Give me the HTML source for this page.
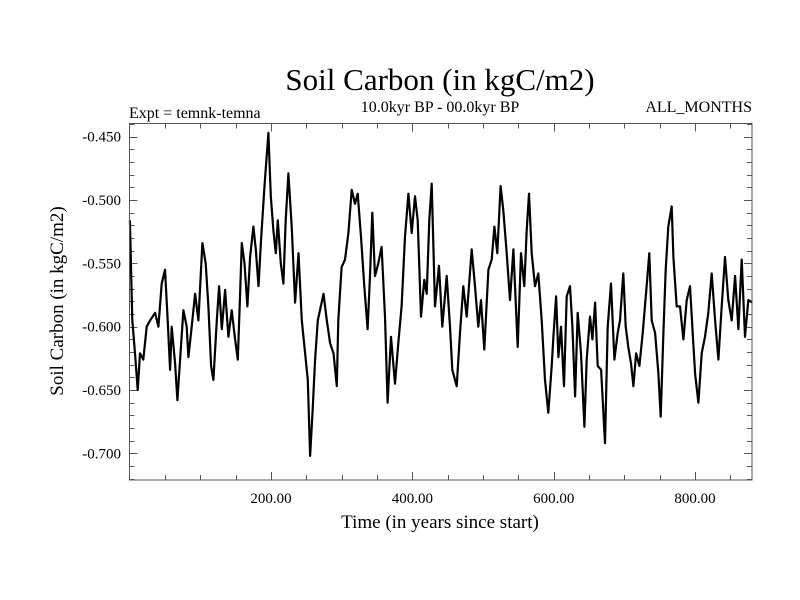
<!DOCTYPE html>
<html><head><meta charset="utf-8"><style>
html,body{margin:0;padding:0;background:#fff}
svg{display:block;font-family:"Liberation Serif",serif}
</style></head><body>
<svg id="chart" width="800" height="600" viewBox="0 0 800 600" xmlns="http://www.w3.org/2000/svg">
<rect width="800" height="600" fill="#fff"/>
<text x="440" y="90" font-size="31" text-anchor="middle">Soil Carbon (in kgC/m2)</text>
<text x="440" y="112" font-size="16" text-anchor="middle">10.0kyr BP - 00.0kyr BP</text>
<text x="129" y="118" font-size="16">Expt = temnk-temna</text>
<text x="752" y="112" font-size="16" text-anchor="end">ALL_MONTHS</text>
<text x="440" y="528" font-size="19" text-anchor="middle">Time (in years since start)</text>
<text transform="translate(63,301) rotate(-90)" font-size="19" text-anchor="middle">Soil Carbon (in kgC/m2)</text>
<g id="ticks"></g>
<g id="series"></g>
<rect x="129.5" y="123.5" width="622.5" height="356.5" fill="none" stroke="#555" stroke-width="1"/>
</svg>
<script>
const years=[0.3,3.7,7.5,11.3,14.6,19.3,24.1,28.8,35.9,40.6,45.3,50,53.8,57.1,59.5,64.2,67.5,71.3,76,80.7,83.1,87.8,92.5,97.2,102.9,107.6,111.4,115.2,118.5,123.2,126.5,130.3,135,139.7,144.4,149.2,152.9,156.2,158.6,162.4,166.6,170.4,175.1,178.4,182.2,186,190.7,196.3,199.6,203.4,206.7,209.5,213.8,217.5,220.8,224.6,229.3,234,238.8,243.5,248.2,252,255.3,258.6,262.4,266.2,274.2,278.9,283.6,288.4,293.1,295.2,299.9,304.7,309.4,314.1,318.8,322.6,327.3,332,336.7,340,343.3,347.1,351.8,356.5,361.3,365,369.7,375.4,380.1,384.8,389.6,394.3,399,403.7,407.5,412.2,416.9,420.2,424,427.3,432,437.7,442.4,448.5,453.2,456.5,462.7,467.4,472.1,476.8,483.9,488.6,493.3,497.1,501.8,507.5,512.2,516,520.2,524.9,528.7,533.4,538.1,542.9,549,553.7,558.4,561.7,565,568.8,573.5,578.2,583,587.7,592.4,597.1,599.5,603.3,606.6,610.3,614.6,618.4,623.1,626.4,630.2,633.9,638.6,643.4,646.7,651.4,654.7,658.5,662.2,667,672.6,676.4,681.1,685.8,690.5,693.8,698.5,701.9,705.6,709.4,712.7,716.5,721.2,725.9,730.6,735.3,738.6,743.4,748.1,751.4,755.2,758.5,762.2,766.9,769.3,774,778.7,783.5,788.2,792.9,796.7,800,804.7,809.4,814.1,818.8,823.6,828.3,833,837.7,842.4,847.1,851.9,856.6,861.3,866,870.7,875.4,881];
const soilCarbon=[-0.516,-0.595,-0.621,-0.650,-0.621,-0.626,-0.600,-0.595,-0.589,-0.600,-0.566,-0.555,-0.595,-0.634,-0.600,-0.629,-0.658,-0.626,-0.587,-0.600,-0.624,-0.600,-0.574,-0.595,-0.534,-0.550,-0.584,-0.631,-0.642,-0.595,-0.568,-0.602,-0.571,-0.608,-0.587,-0.610,-0.626,-0.574,-0.534,-0.550,-0.584,-0.545,-0.521,-0.539,-0.568,-0.531,-0.489,-0.447,-0.497,-0.524,-0.542,-0.516,-0.550,-0.566,-0.516,-0.479,-0.521,-0.581,-0.542,-0.595,-0.621,-0.642,-0.702,-0.668,-0.626,-0.595,-0.574,-0.595,-0.613,-0.621,-0.647,-0.595,-0.553,-0.547,-0.526,-0.492,-0.503,-0.495,-0.529,-0.568,-0.602,-0.560,-0.510,-0.560,-0.550,-0.537,-0.592,-0.660,-0.608,-0.645,-0.613,-0.584,-0.529,-0.495,-0.526,-0.497,-0.516,-0.592,-0.563,-0.574,-0.516,-0.487,-0.584,-0.552,-0.600,-0.560,-0.600,-0.634,-0.647,-0.605,-0.568,-0.592,-0.539,-0.568,-0.600,-0.579,-0.618,-0.555,-0.547,-0.521,-0.542,-0.489,-0.508,-0.542,-0.579,-0.539,-0.616,-0.542,-0.568,-0.524,-0.495,-0.542,-0.568,-0.558,-0.595,-0.642,-0.668,-0.631,-0.608,-0.576,-0.624,-0.600,-0.647,-0.576,-0.568,-0.600,-0.655,-0.589,-0.621,-0.679,-0.626,-0.592,-0.610,-0.581,-0.631,-0.634,-0.692,-0.600,-0.566,-0.626,-0.605,-0.595,-0.558,-0.600,-0.616,-0.629,-0.647,-0.621,-0.631,-0.605,-0.574,-0.542,-0.595,-0.605,-0.637,-0.671,-0.605,-0.555,-0.521,-0.505,-0.545,-0.584,-0.584,-0.610,-0.579,-0.568,-0.605,-0.637,-0.660,-0.621,-0.608,-0.589,-0.558,-0.595,-0.626,-0.584,-0.545,-0.579,-0.595,-0.560,-0.602,-0.547,-0.608,-0.579,-0.581];
const xTickLabels=["200.00","400.00","600.00","800.00"];
const xTickValues=[200,400,600,800];
const yTickLabels=["-0.450","-0.500","-0.550","-0.600","-0.650","-0.700"];
const yTickValues=[-0.45,-0.5,-0.55,-0.6,-0.65,-0.7];

const X0=129.7,XS=0.7067,Y0=136.7,YS=1266.7;
const L=129.5,R=752,T=123.5,B=480;
function xs(t){return X0+XS*t;}
function ys(v){return Y0+(-0.45-v)*YS;}
const NS="http://www.w3.org/2000/svg";
const tg=document.getElementById('ticks');
function line(x1,y1,x2,y2,name){
  const l=document.createElementNS(NS,'line');
  l.setAttribute('x1',x1);l.setAttribute('y1',y1);l.setAttribute('x2',x2);l.setAttribute('y2',y2);
  l.setAttribute('stroke','#555');l.setAttribute('stroke-width','1');
  
  
  tg.appendChild(l);
}
function txt(x,y,s,anchor,name){
  const e=document.createElementNS(NS,'text');
  e.setAttribute('x',x);e.setAttribute('y',y);e.setAttribute('font-size','15');
  e.setAttribute('text-anchor',anchor);e.textContent=s;
  
  
  tg.appendChild(e);
}
for(let t=50;t<=850;t+=50){
  const x=Math.round(xs(t))+0.5, major=(t%200===0), len=major?8:5;
  line(x,B,x,B-len,'x-tick');
  line(x,T,x,T+len,'x-tick-top');
}
xTickValues.forEach((t,i)=>txt(xs(t),503,xTickLabels[i],'middle','x-tick-label'));
for(let k=0;k<=28;k++){
  const v=-0.44-k*0.01; const y=Math.round(ys(v))+0.5;
  if(y<T||y>B) continue;
  const major=(k%5===1), len=major?8:5;
  line(L,y,L+len,y,'y-tick');
  line(R,y,R-len,y,'y-tick-right');
}
yTickValues.forEach((v,i)=>txt(121,ys(v)+5,yTickLabels[i],'end','y-tick-label'));
const p=document.createElementNS(NS,'polyline');
p.setAttribute('points',years.map((t,i)=>xs(t).toFixed(1)+','+ys(soilCarbon[i]).toFixed(1)).join(' '));
p.setAttribute('fill','none');p.setAttribute('stroke','#000');p.setAttribute('stroke-width','2.2');
p.setAttribute('stroke-linejoin','round');


document.getElementById('series').appendChild(p);
</script>
</body></html>
